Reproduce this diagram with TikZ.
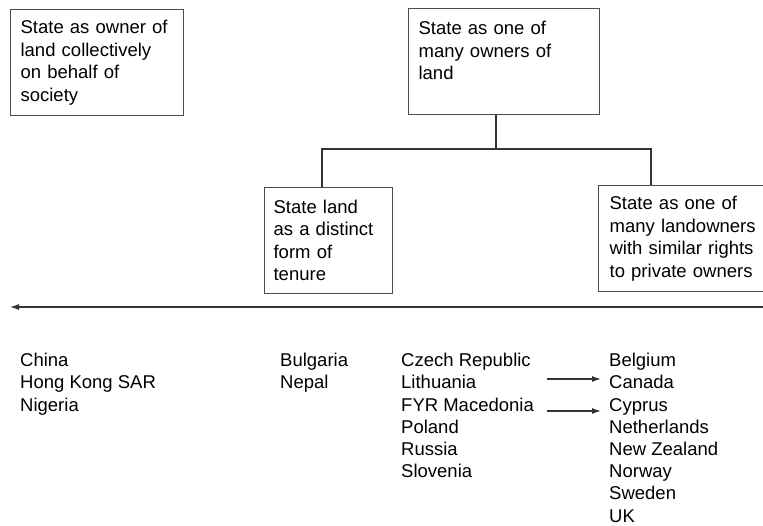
\documentclass[tikz,border=0pt]{standalone}
\usepackage{fontspec}
\setmainfont{Liberation Sans}
\usetikzlibrary{arrows.meta}

\tikzset{
  txt/.style={font=\fontsize{18.5}{22.5}\selectfont},
  statebox/.style={txt,draw=black!70,line width=1.2pt,anchor=north west,align=left,
    inner xsep=10pt,inner ysep=10.5pt,text width=#1,minimum height=106pt},
  countries/.style={font=\fontsize{18.5}{22.2}\selectfont,anchor=north west,align=left,inner sep=0pt},
  link/.style={draw=black!80,line width=1.1pt},
  arr/.style={link,-{Latex[length=9pt,width=6pt]}}
}

\begin{document}
\begin{tikzpicture}[x=1pt,y=-1pt]

    \useasboundingbox (0,0) rectangle (763,526);
    \clip (0,0) rectangle (763,526);

    %%%%%%%%%%%%%%%%%%%%%%%%%%%%%%%%%%%%%%%%%%%%%%%%%%%%%%

    % state owns all land
    \node[statebox=153pt] (owner) at (10,9) {State as owner of\\land collectively\\on behalf of\\society};

    % state is one owner among many
    \node[statebox=171pt] (many) at (408,8) {State as one of\\many owners of\\land\\\mbox{}};

    % state land as its own tenure
    \node[statebox=110pt,inner xsep=9pt] (tenure) at (264,187) {State land\\as a distinct\\form of\\tenure};

    % state like a private owner
    \node[statebox=160pt,inner xsep=11pt] (similar) at (598,185) {State as one of\\many landowners\\with similar rights\\to private owners};

    %%%%%%%%%%%%%%%%%%%%%%%%%%%%%%%%%%%%%%%%%%%%%%%%%%%%%%

    % tree joints
    \coordinate (split) at (496,149);
    \coordinate (jl) at (322,149);
    \coordinate (jr) at (651,149);
    \draw[link] (many.south -| split) -- (split);
    \draw[link] (tenure.north -| jl) -- (jl) -- (jr) -- (similar.north -| jr);

    %%%%%%%%%%%%%%%%%%%%%%%%%%%%%%%%%%%%%%%%%%%%%%%%%%%%%%

    % scale arrow
    \coordinate (scaleR) at (763,307);
    \coordinate (scaleL) at (10,307);
    \draw[arr] (scaleR) -- (scaleL);

    %%%%%%%%%%%%%%%%%%%%%%%%%%%%%%%%%%%%%%%%%%%%%%%%%%%%%%

    % country lists
    \node[countries] (first) at (20,353) {China\\Hong Kong SAR\\Nigeria};
    \node[countries] (second) at (280,353) {Bulgaria\\Nepal};
    \node[countries] (third) at (401,353) {Czech Republic\\Lithuania\\FYR Macedonia\\Poland\\Russia\\Slovenia};
    \node[countries] (fourth) at (609,353) {Belgium\\Canada\\Cyprus\\Netherlands\\New Zealand\\Norway\\Sweden\\UK};

    % moves between lists
    \coordinate (movA) at (547,379);
    \coordinate (movB) at (547,411);
    \coordinate (toA) at (601,379);
    \coordinate (toB) at (601,411);
    \draw[arr] (movA) -- (toA);
    \draw[arr] (movB) -- (toB);

\end{tikzpicture}
\end{document}
